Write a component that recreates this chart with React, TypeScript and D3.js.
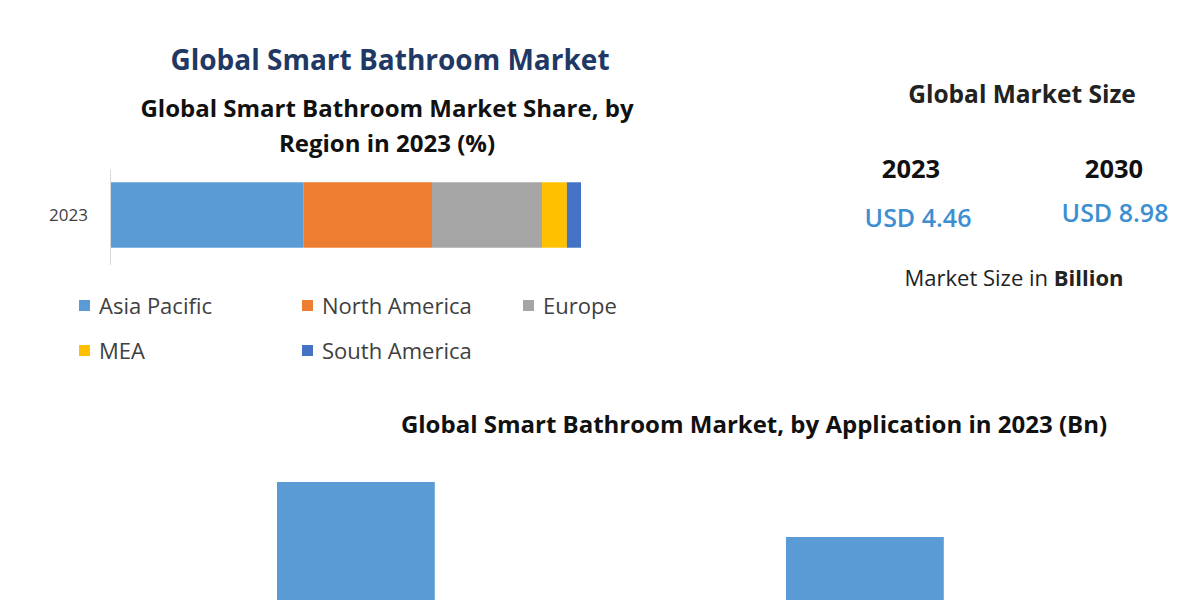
import React from "react";
import * as d3 from "d3";

const regions = ["Asia Pacific", "North America", "Europe", "MEA", "South America"];
const regionShare = [40.9, 27.4, 23.4, 5.3, 3.0];
const regionColors = ["#5b9bd5", "#ed7d31", "#a5a5a5", "#ffc000", "#4472c4"];
const shareYear = ["2023"];

const applications = ["Residential", "Commercial"];
const applicationValues = [2.52, 1.94];

const sizeYears = ["2023", "2030"];
const sizeValues = ["USD 4.46", "USD 8.98"];

const FONT = "'Open Sans', 'Noto Sans', sans-serif";

export default function App() {
  const W = 1200, H = 600;
  // stacked share bar
  const x = d3.scaleLinear().domain([0, 100]).range([111, 581]);
  const yb = d3.scaleBand().domain(shareYear).range([170, 260]).paddingInner(0.2).paddingOuter(0.15);
  const stack = regionShare.map((v, i) => {
    const start = d3.sum(regionShare.slice(0, i));
    return { name: regions[i], x0: start, x1: start + v, color: regionColors[i] };
  });

  // application bars
  const xa = d3.scaleBand().domain(applications).range([22.5, 1198.3]).paddingInner(0.69).paddingOuter(0.5);
  const ya = d3.scaleLinear().domain([0, 2.52]).range([721, 482]);

  const legendPos = [
    [84, 306], [307, 306], [528, 306], [84, 351], [307, 351],
  ];

  return (
    <svg width={W} height={H} style={{ position: "absolute", left: 0, top: 0, background: "#fff" }}>
      <rect width={W} height={H} fill="#fff" />
      <text x={390} y={70} textAnchor="middle" fontFamily={FONT} fontWeight={700} fontSize={28} fill="#1f3864">
        Global Smart Bathroom Market
      </text>
      <text x={387} y={117} textAnchor="middle" fontFamily={FONT} fontWeight={700} fontSize={24} fill="#111">
        Global Smart Bathroom Market Share, by
      </text>
      <text x={387} y={152} textAnchor="middle" fontFamily={FONT} fontWeight={700} fontSize={24} fill="#111">
        Region in 2023 (%)
      </text>

      {/* axis line */}
      <line x1={110.5} x2={110.5} y1={170} y2={265} stroke="#d9d9d9" strokeWidth={1} />
      {shareYear.map((yr) => (
        <text key={yr} x={88} y={(yb(yr) as number) + yb.bandwidth() / 2 + 6} textAnchor="end"
          fontFamily={FONT} fontSize={17} fill="#404040">{yr}</text>
      ))}
      {stack.map((s) => (
        <rect key={s.name} x={x(s.x0)} y={yb(shareYear[0])} width={x(s.x1) - x(s.x0)} height={yb.bandwidth()} fill={s.color} />
      ))}

      {regions.map((r, i) => (
        <g key={r}>
          <rect x={legendPos[i][0] - 5} y={legendPos[i][1] - 6} width={11} height={11} fill={regionColors[i]} />
          <text x={legendPos[i][0] + 15} y={legendPos[i][1] + 8} fontFamily={FONT} fontSize={22} fill="#404040">{r}</text>
        </g>
      ))}

      {/* right panel */}
      <text x={1022} y={103} textAnchor="middle" fontFamily={FONT} fontWeight={700} fontSize={24.5} fill="#222">
        Global Market Size
      </text>
      {sizeYears.map((yr, i) => (
        <g key={yr}>
          <text x={i === 0 ? 911 : 1114} y={178} textAnchor="middle" fontFamily={FONT} fontWeight={700} fontSize={25.5} fill="#111">{yr}</text>
          <text x={i === 0 ? 918 : 1115} y={i === 0 ? 227 : 222} textAnchor="middle" fontFamily={FONT} fontWeight={600} fontSize={25} fill="#3d8fd1">{sizeValues[i]}</text>
        </g>
      ))}
      <text x={1014} y={286} textAnchor="middle" fontFamily={FONT} fontSize={22} fill="#222">
        Market Size in <tspan fontWeight={700}>Billion</tspan>
      </text>

      <text x={754} y={433} textAnchor="middle" fontFamily={FONT} fontWeight={700} fontSize={24} fill="#111">
        Global Smart Bathroom Market, by Application in 2023 (Bn)
      </text>
      {applications.map((a, i) => (
        <rect key={a} x={xa(a)} y={ya(applicationValues[i])} width={xa.bandwidth()} height={ya(0) - ya(applicationValues[i])} fill="#5b9bd5" />
      ))}
    </svg>
  );
}
